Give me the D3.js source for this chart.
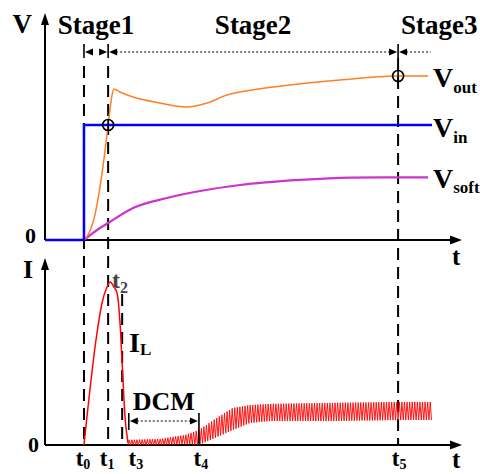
<!DOCTYPE html>
<html>
<head>
<meta charset="utf-8">
<script src="https://cdn.jsdelivr.net/npm/d3@7"></script>
<style>
  body { margin: 0; background: #fff; }
  text { font-family: "Liberation Serif", "Times New Roman", serif; font-weight: bold; }
</style>
</head>
<body>
<div id="chart"></div>
<script>
// ---- data (time in arbitrary units, V and I normalised) ----
const vinT = [0, 1.0, 1.0, 9.93];
const vinV = [0, 0, 1, 1];

const voutT = [1.0, 1.05, 1.28, 1.51, 1.62, 1.72, 1.77, 1.92, 2.26, 2.95, 3.62, 4.16, 4.67, 5.0, 6.29, 7.57, 9.03, 9.83];
const voutV = [0, 0.017, 0.217, 0.696, 1.0, 1.261, 1.313, 1.287, 1.243, 1.191, 1.157, 1.191, 1.261, 1.287, 1.348, 1.391, 1.426, 1.426];

const vsoftT = [1.0, 1.41, 1.62, 2.26, 3.13, 3.98, 5.0, 6.54, 7.83, 9.06, 9.83];
const vsoftV = [0, 0.104, 0.148, 0.278, 0.365, 0.426, 0.478, 0.522, 0.542, 0.545, 0.545];

const ilT = [1.0, 1.334, 1.463, 1.591, 1.668, 1.771, 1.848, 1.925, 1.976, 2.053, 2.13];
const ilV = [0, 0.687, 0.871, 0.969, 1.0, 0.969, 0.933, 0.748, 0.521, 0.172, 0.012];

// ripple envelope of the inductor current after t3
const ripT  = [2.13, 2.95, 3.59, 3.95, 4.41, 4.82, 5.26, 5.77, 7.31, 9.06, 9.93];
const ripLo = [0, 0, 0.006, 0, 0.049, 0.092, 0.135, 0.147, 0.147, 0.153, 0.153];
const ripHi = [0.031, 0.037, 0.061, 0.092, 0.166, 0.227, 0.245, 0.252, 0.258, 0.264, 0.264];
const ripPeriod = 0.066;

// time instants
const eventNames = ["0", "1", "2", "3", "4", "5"];
const eventTimes = [1.0, 1.62, 1.67, 1.98, 3.95, 9.06];
const dcmStart = 2.15;
const stageNames = ["Stage1", "Stage2", "Stage3"];
const tEnd = 9.9;

const width = 480, height = 474;
const svg = d3.select("#chart").append("svg")
    .attr("width", width)
    .attr("height", height);

// scales
const x = d3.scaleLinear().domain([0, 10.7]).range([45, 462]);
const yV = d3.scaleLinear().domain([0, 2]).range([240, 10]);
const yI = d3.scaleLinear().domain([0, 1.15]).range([445, 257.5]);

const ev = name => eventTimes[eventNames.indexOf(name)];

// arrow head helper
function arrowHead(g, tipX, tipY, dir, len, half) {
  let pts;
  if (dir === "up") pts = [[tipX, tipY], [tipX - half, tipY + len], [tipX + half, tipY + len]];
  if (dir === "right") pts = [[tipX, tipY], [tipX - len, tipY - half], [tipX - len, tipY + half]];
  if (dir === "left") pts = [[tipX, tipY], [tipX + len, tipY - half], [tipX + len, tipY + half]];
  g.append("path").attr("d", "M" + pts.join("L") + "Z").attr("fill", "#000");
}

// ---- dashed time markers ----
const dashG = svg.append("g")
    .attr("stroke", "#000")
    .attr("stroke-width", 2)
    .attr("stroke-dasharray", "12,7");
[["0", 66], ["1", 66], ["5", 58]].forEach(([n, top]) => {
  dashG.append("line")
    .attr("x1", x(ev(n))).attr("x2", x(ev(n)))
    .attr("y1", top).attr("y2", yI(0));
});
dashG.append("line")
  .attr("x1", x(ev("3"))).attr("x2", x(ev("3")))
  .attr("y1", 294).attr("y2", yI(0));

// ---- axes ----
const axG = svg.append("g").attr("stroke", "#000").attr("stroke-width", 2);
axG.append("line").attr("x1", x(0)).attr("x2", x(0)).attr("y1", yV(0)).attr("y2", 22);
axG.append("line").attr("x1", x(0)).attr("x2", 452).attr("y1", yV(0)).attr("y2", yV(0));
axG.append("line").attr("x1", x(0)).attr("x2", x(0)).attr("y1", yI(0)).attr("y2", 266);
axG.append("line").attr("x1", x(0)).attr("x2", 452).attr("y1", yI(0)).attr("y2", yI(0));
arrowHead(svg, x(0), 13, "up", 12, 4);
arrowHead(svg, 462, yV(0), "right", 12, 4.5);
arrowHead(svg, x(0), 258, "up", 12, 4);
arrowHead(svg, 462, yI(0), "right", 12, 4.5);

// ---- upper plot curves ----
const lineV = (ts, vs, curve) => d3.line()
    .x(i => x(ts[i])).y(i => yV(vs[i]))
    .curve(curve)(d3.range(ts.length));

svg.append("path")
  .attr("d", lineV(vsoftT, vsoftV, d3.curveMonotoneX))
  .attr("fill", "none").attr("stroke", "#cc33cc").attr("stroke-width", 2.2);

svg.append("path")
  .attr("d", lineV(voutT, voutV, d3.curveMonotoneX))
  .attr("fill", "none").attr("stroke", "#ff7f27").attr("stroke-width", 1.5);

svg.append("path")
  .attr("d", lineV(vinT, vinV, d3.curveLinear))
  .attr("fill", "none").attr("stroke", "#0000ff").attr("stroke-width", 2.5);

// circle markers
[[ev("1"), 1.0], [ev("5"), voutV[voutV.length - 2]]].forEach(([t, v]) => {
  svg.append("circle")
    .attr("cx", x(t)).attr("cy", yV(v)).attr("r", 5.5)
    .attr("fill", "none").attr("stroke", "#000").attr("stroke-width", 1.6);
  svg.append("line")
    .attr("x1", x(t)).attr("x2", x(t)).attr("y1", yV(v) - 6).attr("y2", yV(v) + 6)
    .attr("stroke", "#000").attr("stroke-width", 1.6);
});

// ---- lower plot: inductor current ----
svg.append("path")
  .attr("d", d3.line().x(i => x(ilT[i])).y(i => yI(ilV[i])).curve(d3.curveMonotoneX)(d3.range(ilT.length)))
  .attr("fill", "none").attr("stroke", "#ff0000").attr("stroke-width", 1.5);

const lo = d3.scaleLinear().domain(ripT).range(ripLo);
const hi = d3.scaleLinear().domain(ripT).range(ripHi);
const ripPts = [];
for (let k = 0; ripT[0] + k * ripPeriod / 2 <= ripT[ripT.length - 1]; k++) {
  const t = ripT[0] + k * ripPeriod / 2;
  ripPts.push([t, k % 2 ? hi(t) : lo(t)]);
}
svg.append("path")
  .attr("d", d3.line().x(d => x(d[0])).y(d => yI(d[1]))(ripPts))
  .attr("fill", "none").attr("stroke", "#ff0000").attr("stroke-width", 0.9);

// ---- stage dimension arrows ----
const dimY = 52;
const dimG = svg.append("g");
[ev("0"), ev("1"), ev("5")].forEach(t => {
  dimG.append("line").attr("x1", x(t)).attr("x2", x(t)).attr("y1", dimY - 8).attr("y2", dimY + 6)
    .attr("stroke", "#000").attr("stroke-width", 1.6);
});
dimG.append("line").attr("x1", x(ev("1")) + 4).attr("x2", x(ev("5")) - 4)
  .attr("y1", dimY).attr("y2", dimY)
  .attr("stroke", "#000").attr("stroke-width", 1).attr("stroke-dasharray", "2,2");
dimG.append("line").attr("x1", x(ev("5")) + 4).attr("x2", x(tEnd))
  .attr("y1", dimY).attr("y2", dimY)
  .attr("stroke", "#000").attr("stroke-width", 1).attr("stroke-dasharray", "2,2");
arrowHead(dimG, x(ev("0")) + 1, dimY, "left", 8, 3.5);
arrowHead(dimG, x(ev("1")) - 1, dimY, "right", 8, 3.5);
arrowHead(dimG, x(ev("1")) + 1, dimY, "left", 8, 3.5);
arrowHead(dimG, x(ev("5")) - 1, dimY, "right", 8, 3.5);
arrowHead(dimG, x(ev("5")) + 1, dimY, "left", 8, 3.5);

svg.append("text").attr("x", (x(ev("0")) + x(ev("1"))) / 2).attr("y", 34)
  .attr("text-anchor", "middle").attr("font-size", 27).text(stageNames[0]);
svg.append("text").attr("x", (x(ev("1")) + x(ev("5"))) / 2).attr("y", 34)
  .attr("text-anchor", "middle").attr("font-size", 27).text(stageNames[1]);
svg.append("text").attr("x", x(ev("5")) + 3).attr("y", 34)
  .attr("text-anchor", "start").attr("font-size", 27).text(stageNames[2]);

// ---- DCM arrow ----
const dcmY = 421;
[dcmStart, ev("4")].forEach(t => {
  svg.append("line").attr("x1", x(t)).attr("x2", x(t)).attr("y1", 413).attr("y2", t === dcmStart ? 430 : 444)
    .attr("stroke", "#000").attr("stroke-width", 1.6);
});
svg.append("line").attr("x1", x(dcmStart) + 4).attr("x2", x(ev("4")) - 4)
  .attr("y1", dcmY).attr("y2", dcmY)
  .attr("stroke", "#000").attr("stroke-width", 1).attr("stroke-dasharray", "2,2");
arrowHead(svg, x(dcmStart) + 1, dcmY, "left", 8, 3.5);
arrowHead(svg, x(ev("4")) - 1, dcmY, "right", 8, 3.5);
svg.append("text").attr("x", (x(dcmStart) + x(ev("4"))) / 2).attr("y", 410)
  .attr("text-anchor", "middle").attr("font-size", 26).text("DCM");

// ---- labels ----
function subLabel(px, py, main, sub, size, subSize, dy, anchor, color) {
  const tx = svg.append("text").attr("x", px).attr("y", py)
    .attr("font-size", size).attr("text-anchor", anchor || "start")
    .attr("fill", color || "#000");
  tx.append("tspan").text(main);
  tx.append("tspan").attr("font-size", subSize).attr("dy", dy).text(sub);
}

svg.append("text").attr("x", 32).attr("y", 33).attr("text-anchor", "end").attr("font-size", 27).text("V");
svg.append("text").attr("x", 36).attr("y", 243).attr("text-anchor", "end").attr("font-size", 22).text("0");
svg.append("text").attr("x", 33).attr("y", 278).attr("text-anchor", "end").attr("font-size", 26).text("I");
svg.append("text").attr("x", 39).attr("y", 452).attr("text-anchor", "end").attr("font-size", 22).text("0");
svg.append("text").attr("x", 452).attr("y", 265).attr("font-size", 25).text("t");
svg.append("text").attr("x", 452).attr("y", 468).attr("font-size", 25).text("t");

subLabel(433, 87, "V", "out", 28, 17, 6);
subLabel(433, 137, "V", "in", 28, 17, 6);
subLabel(433, 188, "V", "soft", 28, 17, 5);

subLabel(x(ev("2")) + 2, 288, "t", "2", 24, 16, 5, "start", "#444");
subLabel(129, 352, "I", "L", 28, 17, 3);

// event labels below the current axis
const labelShift = { "0": -1, "1": -1, "3": 7, "4": 2, "5": 1 };
["0", "1", "3", "4", "5"].forEach(n => {
  const t = n === "3" ? dcmStart : ev(n);
  subLabel(x(t) + labelShift[n], 466, "t", n, 23, 14, 3, "middle");
});
</script>
</body>
</html>
